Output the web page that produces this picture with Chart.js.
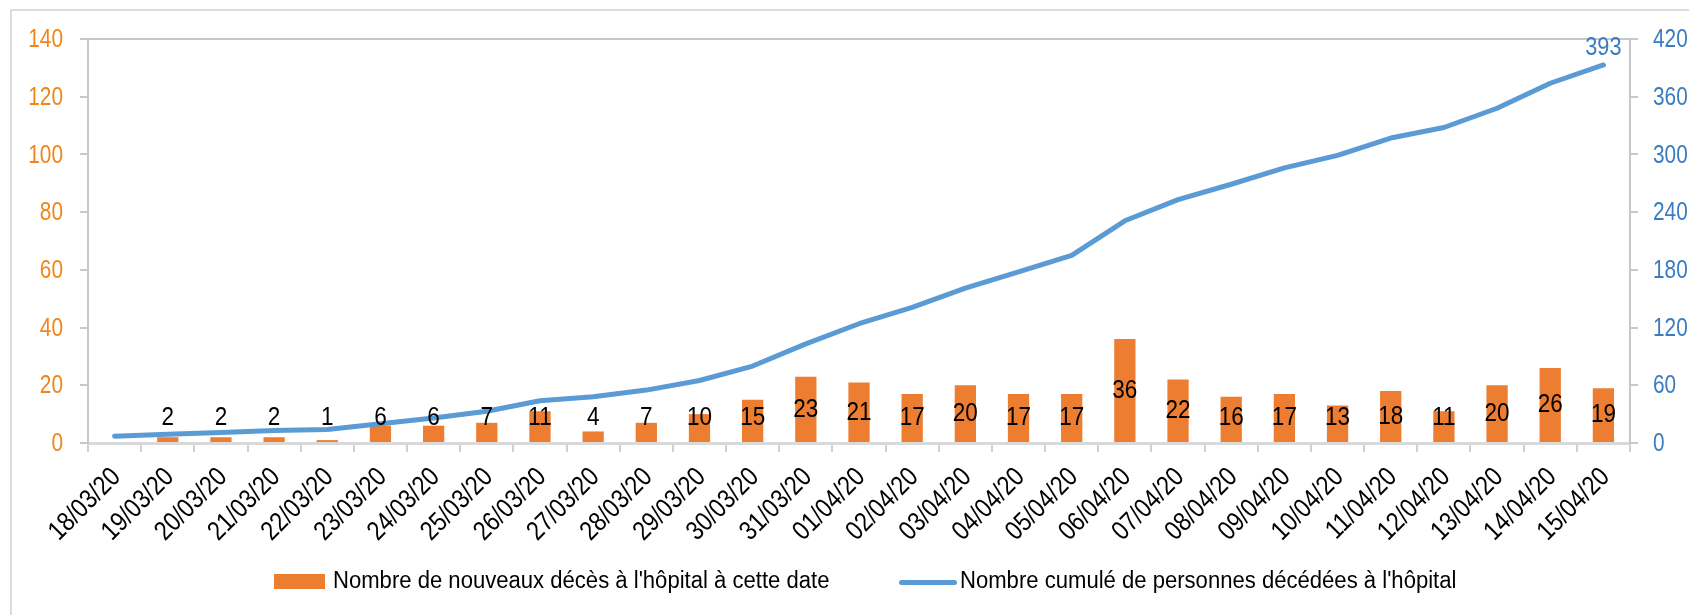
<!DOCTYPE html>
<html lang="fr">
<head>
<meta charset="utf-8">
<script src="https://cdn.jsdelivr.net/npm/chart.js@4/dist/chart.umd.min.js"></script>
<style>
    html, body { margin: 0; padding: 0; background: #fff; overflow: hidden; }
    #wrap { position: relative; width: 1689px; height: 615px; }
    #frame {
        position: absolute; left: 10px; top: 9px; width: 1700px; height: 620px;
        border: 2px solid #dcdcdc; box-sizing: border-box;
    }
    canvas { position: absolute; left: 0; top: 0; }
    .sw { position: absolute; }
    .legend {
        position: absolute; top: 565px; height: 30px;
        font-family: 'Liberation Sans', Arial, sans-serif;
        font-size: 23px; color: #000; white-space: nowrap; line-height: 30px;
        transform: scaleX(0.96); transform-origin: left center;
    }
</style>
</head>
<body>
<div id="wrap">
    <div id="frame"></div>
    <canvas id="chart" width="1689" height="615"></canvas>
    <div class="sw" style="left:274px;top:574px;width:51px;height:15px;background:#ed7d31;"></div>
    <div class="legend" style="left:333px;">Nombre de nouveaux décès à l'hôpital à cette date</div>
    <div class="sw" style="left:899px;top:580px;width:58px;height:5px;border-radius:3px;background:#5b9bd5;"></div>
    <div class="legend" style="left:960px;">Nombre cumulé de personnes décédées à l'hôpital</div>
</div>
<script>
// --- ข้อมูล ---
const dates = [
    "18/03/20", "19/03/20", "20/03/20", "21/03/20", "22/03/20", "23/03/20", "24/03/20",
    "25/03/20", "26/03/20", "27/03/20", "28/03/20", "29/03/20", "30/03/20", "31/03/20",
    "01/04/20", "02/04/20", "03/04/20", "04/04/20", "05/04/20", "06/04/20", "07/04/20",
    "08/04/20", "09/04/20", "10/04/20", "11/04/20", "12/04/20", "13/04/20", "14/04/20", "15/04/20"
];
const newDeaths = [null, 2, 2, 2, 1, 6, 6, 7, 11, 4, 7, 10, 15, 23, 21, 17, 20, 17, 17, 36, 22, 16, 17, 13, 18, 11, 20, 26, 19];
const cumulDeaths = [7, 9, 11, 13, 14, 20, 26, 33, 44, 48, 55, 65, 80, 103, 124, 141, 161, 178, 195, 231, 253, 269, 286, 299, 317, 328, 348, 374, 393];
const leftTicks = [0, 20, 40, 60, 80, 100, 120, 140];
const rightTicks = [0, 60, 120, 180, 240, 300, 360, 420];

const FONT = "'Liberation Sans', Arial, sans-serif";
const ORANGE = '#ed7d31';
const BLUE = '#5b9bd5';
const GRID = '#c8c8c8';

// ตัวอักษรแบบแคบ (ย่อแนวนอน) ให้เหมือนต้นฉบับ
function narrowText(ctx, text, x, y, sx, align, angle) {
    ctx.save();
    ctx.translate(x, y);
    if (angle) ctx.rotate(angle);
    ctx.scale(sx, 1);
    ctx.textAlign = align;
    ctx.fillText(text, 0, 0);
    ctx.restore();
}

// --- วาดป้ายแกนและป้ายตัวเลข ---
const textLayer = {
    id: 'textLayer',
    afterDraw(chart) {
        const ctx = chart.ctx;
        const { x, y, y2 } = chart.scales;
        const area = chart.chartArea;
        const base = y.getPixelForValue(0);
        ctx.save();
        ctx.textBaseline = 'middle';

        // แกน Y ซ้าย
        ctx.font = `26px ${FONT}`;
        ctx.fillStyle = '#f08519';
        leftTicks.forEach(v => narrowText(ctx, String(v), area.left - 25, y.getPixelForValue(v) + 1, 0.8, 'right'));

        // แกน Y ขวา
        ctx.fillStyle = '#3a7cc2';
        rightTicks.forEach(v => narrowText(ctx, String(v), area.right + 23, y2.getPixelForValue(v) + 1, 0.8, 'left'));

        // แกน X (เอียง 45 องศา)
        ctx.font = `27px ${FONT}`;
        ctx.fillStyle = '#000';
        dates.forEach((d, i) => narrowText(ctx, d, x.getPixelForValue(i) + 2, base + 30, 0.85, 'right', -Math.PI / 4));

        // ตัวเลขบนแท่ง
        ctx.font = `25px ${FONT}`;
        chart.getDatasetMeta(0).data.forEach((bar, i) => {
            if (newDeaths[i] == null) return;
            const mid = (bar.y + base) / 2;
            narrowText(ctx, String(newDeaths[i]), bar.x, Math.min(mid, base - 25), 0.9, 'center');
        });

        // ค่าสุดท้ายของเส้นสะสม
        const pts = chart.getDatasetMeta(1).data;
        const last = pts[pts.length - 1];
        ctx.font = `25px ${FONT}`;
        ctx.fillStyle = '#3a7cc2';
        narrowText(ctx, String(cumulDeaths[cumulDeaths.length - 1]), last.x, last.y - 17, 0.87, 'center');
        ctx.restore();
    }
};

new Chart(document.getElementById('chart'), {
    type: 'bar',
    data: {
        labels: dates,
        datasets: [{
            label: "Nombre de nouveaux décès à l'hôpital à cette date",
            data: newDeaths,
            backgroundColor: ORANGE,
            categoryPercentage: 1,
            barPercentage: 0.4,
            yAxisID: 'y',
            order: 2
        }, {
            type: 'line',
            label: "Nombre cumulé de personnes décédées à l'hôpital",
            data: cumulDeaths,
            borderColor: BLUE,
            borderWidth: 5,
            borderCapStyle: 'round',
            borderJoinStyle: 'round',
            pointRadius: 0,
            tension: 0,
            yAxisID: 'y2',
            order: 1
        }]
    },
    options: {
        responsive: false,
        animation: false,
        layout: { padding: { top: 39, left: 0, right: 0, bottom: 0 } },
        plugins: {
            legend: { display: false },
            tooltip: { enabled: false }
        },
        scales: {
            x: {
                offset: true,
                afterFit: s => { s.height = 172; },
                grid: {
                    offset: true,
                    drawOnChartArea: false,
                    tickLength: 9,
                    tickColor: '#d0d0d0',
                    lineWidth: 2
                },
                border: { color: '#d9d9d9', width: 3 },
                ticks: { display: false, autoSkip: false }
            },
            y: {
                position: 'left',
                min: 0,
                max: 140,
                afterFit: s => { s.width = 88; },
                afterBuildTicks: s => { s.ticks = leftTicks.map(v => ({ value: v })); },
                grid: {
                    color: c => (c.tick && c.tick.value === 140) ? GRID : 'transparent',
                    lineWidth: 2,
                    tickLength: 8,
                    tickColor: GRID
                },
                border: { color: GRID, width: 2 },
                ticks: { display: false }
            },
            y2: {
                position: 'right',
                min: 0,
                max: 420,
                afterFit: s => { s.width = 59; },
                afterBuildTicks: s => { s.ticks = rightTicks.map(v => ({ value: v })); },
                grid: {
                    drawOnChartArea: false,
                    lineWidth: 2,
                    tickLength: 8,
                    tickColor: GRID
                },
                border: { color: GRID, width: 2 },
                ticks: { display: false }
            }
        }
    },
    plugins: [textLayer]
});
</script>
</body>
</html>
